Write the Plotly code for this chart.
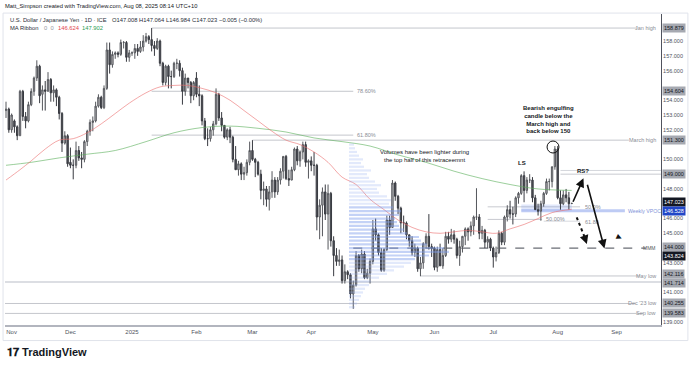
import plotly.graph_objects as go
import pandas as pd

# ---------------- data ----------------
dates = pd.bdate_range("2024-10-30", "2025-08-08") + pd.Timedelta(hours=12)

opens = [153.3, 153.4,
    152.0,152.6,152.2,151.6,154.6,152.9,152.6,153.7,154.6,155.5,156.3,154.4,154.7,154.6,155.4,154.5,154.7,154.2,153.1,151.1,151.6,
    149.8,149.6,149.6,150.6,150.1,150.0,151.2,151.9,152.5,152.6,153.6,154.2,153.5,154.8,157.4,156.4,157.1,157.2,157.1,157.9,157.9,156.9,
    157.2,157.2,157.5,157.3,157.6,158.0,158.3,158.1,157.7,157.5,158.0,156.5,155.2,156.3,155.6,155.6,156.5,156.5,156.0,154.6,155.5,155.2,154.3,
    155.5,154.4,154.3,152.6,151.4,151.4,152.0,152.4,154.4,152.8,152.3,151.5,152.0,151.5,150.0,149.3,149.7,149.0,149.1,149.8,
    150.6,150.0,149.8,149.0,147.9,148.0,147.3,147.8,148.6,147.8,148.6,149.2,150.2,148.7,148.6,149.3,150.7,149.9,150.5,151.0,149.8,
    149.9,149.6,149.6,146.1,146.9,147.8,146.3,147.7,144.5,143.5,143.1,143.2,141.8,142.4,142.2,140.9,141.5,143.5,142.6,143.6,142.0,142.3,
    143.1,145.3,144.9,143.7,142.5,143.9,145.9,145.4,148.4,147.5,146.7,145.7,145.7,144.9,144.5,143.7,144.0,142.6,143.0,144.3,144.8,144.1,
    144.0,142.7,143.9,142.8,143.5,144.8,144.6,144.9,144.6,143.5,144.1,144.8,145.3,145.1,145.5,146.1,146.1,145.0,145.2,144.4,144.6,
    144.0,143.4,143.7,145.0,144.4,146.1,146.6,146.3,146.3,147.4,147.7,148.9,147.9,148.6,148.6,147.4,146.6,146.5,147.0,147.7,148.5,148.5,149.5,
    150.7,147.4,147.0,147.6,147.4,147.008]
highs = [153.9, 153.5,
    153.1,152.7,152.3,154.7,154.7,153.2,153.9,154.8,155.6,156.7,156.4,155.0,155.3,155.9,155.5,155.0,154.8,154.3,153.2,151.9,151.7,
    150.8,150.0,151.2,150.9,150.5,151.3,152.0,152.7,152.9,153.9,154.4,154.3,155.0,157.9,157.9,157.3,157.3,157.3,158.1,158.0,158.0,157.4,
    157.3,157.8,157.8,158.0,158.4,158.55,158.4,158.88,158.0,158.2,158.1,156.6,156.4,156.4,156.0,156.6,156.8,156.7,156.2,155.8,155.5,155.3,155.3,
    155.9,155.0,154.4,152.8,152.1,152.2,152.6,154.8,154.5,153.2,152.3,152.1,152.2,151.6,150.9,149.9,149.8,149.5,150.0,151.2,
    151.3,150.1,149.9,149.3,148.5,148.2,148.2,149.2,148.8,148.8,149.4,150.2,150.3,149.3,149.5,150.8,150.9,150.6,151.2,151.2,150.0,
    150.2,150.5,149.7,147.3,148.1,148.3,148.3,147.8,144.8,144.0,143.9,143.5,142.9,142.5,142.3,141.8,143.8,143.6,143.9,143.8,142.6,143.3,
    145.9,146.0,145.0,144.0,144.0,146.2,146.2,148.6,148.5,147.6,146.8,146.2,145.8,144.9,144.8,144.3,144.1,143.4,144.4,145.0,146.3,144.3,
    144.1,144.1,144.3,144.0,145.1,145.1,145.3,145.2,144.7,144.5,144.8,145.4,145.4,145.8,146.2,148.05,146.3,145.5,145.3,144.8,144.7,
    144.1,144.1,145.2,145.1,146.2,146.9,147.2,146.8,147.5,147.8,149.0,149.19,148.8,149.0,148.8,147.6,147.0,147.2,147.8,148.7,148.7,149.5,150.9,
    150.9,147.9,147.9,148.0,147.8,147.064]
lows = [152.8, 151.8,
    151.8,151.8,151.3,151.6,152.6,152.1,152.5,153.6,154.3,155.3,153.8,153.3,153.3,154.6,153.9,153.9,153.6,152.7,150.5,151.0,149.5,
    149.4,148.65,149.4,149.9,149.4,149.8,150.9,151.6,151.9,152.5,153.5,153.4,153.4,154.7,155.8,156.2,156.8,156.9,157.0,157.5,156.6,156.6,
    157.0,156.8,157.0,157.2,157.3,157.9,157.8,157.3,157.0,157.4,156.3,155.0,155.0,154.8,154.8,155.5,156.1,155.6,153.7,154.3,154.8,153.8,154.0,
    154.2,153.6,152.3,151.3,150.9,151.2,151.6,152.3,152.6,151.9,151.4,151.3,151.1,149.8,149.3,148.9,148.6,148.6,148.9,149.6,
    149.9,148.8,148.9,147.3,146.9,146.8,146.54,147.4,147.4,147.6,148.3,148.7,148.6,148.2,148.6,149.2,149.6,149.5,150.0,149.5,148.7,
    149.2,148.9,145.2,144.6,144.8,145.9,143.9,144.1,142.1,142.8,142.8,141.6,141.6,141.9,140.6,139.89,141.4,142.4,142.3,141.9,141.9,141.6,
    142.9,144.5,143.5,142.4,142.4,143.8,144.9,145.4,147.2,146.3,145.0,145.1,144.6,144.1,143.5,143.4,142.4,142.1,142.6,144.0,143.9,143.4,
    142.5,142.4,142.8,142.6,143.4,144.3,144.4,144.3,143.3,142.8,143.7,144.2,144.5,144.8,144.9,145.9,144.6,144.6,144.0,144.0,143.8,
    142.68,143.1,143.6,144.2,144.2,145.8,146.0,145.6,146.1,147.0,147.6,147.1,147.7,148.4,147.1,146.6,146.2,145.85,146.8,147.6,147.9,148.1,149.3,
    147.3,146.6,146.9,147.1,146.6,146.984]
closes = [153.4, 152.0,
    153.0,152.2,151.6,154.6,152.9,152.6,153.7,154.6,155.5,156.3,154.3,154.7,154.6,155.4,154.5,154.7,154.2,153.1,151.1,151.6,149.7,
    149.6,149.6,150.6,150.1,150.0,151.2,151.9,152.5,152.6,153.6,154.2,153.5,154.8,157.4,156.4,157.1,157.2,157.1,157.9,157.9,156.9,157.2,
    157.2,157.5,157.3,157.6,158.0,158.3,158.1,157.7,157.5,158.0,156.5,155.2,156.3,155.6,155.6,156.5,156.5,156.0,154.6,155.5,155.2,154.3,155.2,
    154.4,154.3,152.6,151.4,151.4,152.0,152.4,154.4,152.8,152.3,151.5,152.0,151.5,150.0,149.3,149.7,149.0,149.1,149.8,150.6,
    150.0,149.8,149.0,147.9,148.0,147.3,147.8,148.6,147.8,148.6,149.2,150.2,148.7,148.6,149.3,150.7,149.9,150.5,151.0,149.8,149.9,
    149.6,149.6,146.1,146.9,147.8,146.3,147.7,144.5,143.5,143.1,143.2,141.8,142.4,142.2,140.9,141.5,143.5,142.6,143.6,142.0,142.3,143.1,
    145.3,144.9,143.7,142.5,143.9,145.9,145.4,148.4,147.5,146.7,145.7,145.7,144.9,144.5,143.7,144.0,142.6,143.0,144.3,144.8,144.1,144.0,
    142.7,143.9,142.8,143.5,144.8,144.6,144.9,144.6,143.5,144.1,144.8,145.3,145.1,145.5,146.1,146.1,145.0,145.2,144.4,144.6,144.0,
    143.4,143.7,145.0,144.4,146.1,146.6,146.3,146.3,147.4,147.7,148.9,147.9,148.6,148.6,147.4,146.6,146.5,147.0,147.7,148.5,148.5,149.5,150.7,
    147.4,147.0,147.6,147.4,147.0,147.023]

ma_fast_dates = ["2024-10-30","2024-11-06","2024-11-12","2024-11-19","2024-11-26","2024-12-03","2024-12-10","2024-12-17",
                 "2024-12-24","2024-12-31","2025-01-08","2025-01-15","2025-01-22","2025-01-29","2025-02-05","2025-02-12",
                 "2025-02-19","2025-02-26","2025-03-05","2025-03-12","2025-03-19","2025-03-26","2025-04-02","2025-04-09",
                 "2025-04-16","2025-04-23","2025-04-30","2025-05-07","2025-05-14","2025-05-21","2025-05-28","2025-06-04",
                 "2025-06-11","2025-06-18","2025-06-25","2025-07-02","2025-07-09","2025-07-16","2025-07-23","2025-07-30","2025-08-08"]
ma_fast = [148.6,149.3,149.9,150.7,151.3,151.4,151.8,152.4,153.1,153.8,154.5,154.9,155.0,155.0,154.8,154.5,
           154.0,153.3,152.6,151.9,151.3,151.0,150.5,149.8,148.8,148.3,147.3,146.6,145.9,145.4,145.1,145.0,
           145.1,145.2,145.1,145.0,145.3,145.6,146.0,146.4,146.624]

ma_slow_dates = ["2024-10-30","2024-11-12","2024-11-26","2024-12-10","2024-12-24","2025-01-08","2025-01-22","2025-02-05",
                 "2025-02-19","2025-03-05","2025-03-19","2025-04-02","2025-04-16","2025-04-30","2025-05-14","2025-05-28",
                 "2025-06-11","2025-06-25","2025-07-09","2025-07-23","2025-08-08"]
ma_slow = [149.6,149.8,150.1,150.35,150.6,151.2,151.8,152.15,152.25,152.1,151.85,151.45,151.2,150.9,150.3,149.8,
           149.2,148.7,148.3,148.0,147.902]

vp_prices = [140.0,140.25,140.5,140.75,141.0,141.25,141.5,141.75,142.0,142.25,142.5,142.75,143.0,143.25,143.5,143.75,
             144.0,144.25,144.5,144.75,145.0,145.25,145.5,145.75,146.0,146.25,146.5,146.75,147.0,147.25,147.5,147.75,
             148.0,148.25,148.5,148.75,149.0,149.25,149.5,149.75,150.0,150.25,150.5,150.75,151.0]
vp_volume = [6,8,10,12,14,16,20,22,30,38,45,55,62,66,80,100,95,78,72,70,58,55,50,48,46,50,52,44,40,42,38,30,
             28,32,26,20,18,22,15,12,14,10,8,6,5]

month_ticks = ["2024-11-01","2024-12-02","2025-01-01","2025-02-03","2025-03-03","2025-04-01","2025-05-01",
               "2025-06-02","2025-07-01","2025-08-01","2025-09-01"]
month_labels = ["Nov","Dec","2025","Feb","Mar","Apr","May","Jun","Jul","Aug","Sep"]
price_ticks = [139, 141, 143, 145, 146, 148, 150, 152, 153, 154, 156, 157, 158]

# ---------------- figure ----------------
FONT = "Liberation Sans"
fig = go.Figure()

vp_colors = ["rgba(125,155,235,0.45)" if 143.2 <= p <= 146.8 else "rgba(150,175,240,0.28)" for p in vp_prices]
fig.add_trace(go.Bar(x=vp_volume, y=vp_prices, orientation="h", xaxis="x2", yaxis="y",
                     width=0.15, marker=dict(color=vp_colors, line=dict(width=0)), hoverinfo="skip"))

fig.add_trace(go.Scatter(x=[d + " 12:00" for d in ma_slow_dates], y=ma_slow, mode="lines",
                         line=dict(color="rgba(90,175,90,0.6)", width=1, shape="spline"), hoverinfo="skip"))
fig.add_trace(go.Scatter(x=[d + " 12:00" for d in ma_fast_dates], y=ma_fast, mode="lines",
                         line=dict(color="rgba(235,110,110,0.6)", width=1, shape="spline"), hoverinfo="skip"))

fig.add_trace(go.Candlestick(x=dates, open=opens, high=highs, low=lows, close=closes,
                             increasing=dict(fillcolor="#c3c3c6", line=dict(color="#55575c", width=1)),
                             decreasing=dict(fillcolor="#55575d", line=dict(color="#383a40", width=1)),
                             whiskerwidth=0, hoverinfo="skip"))

shapes = []
def hline(x0, x1, y, color="#c4c6cc", width=1, dash="solid", xref="x"):
    shapes.append(dict(type="line", xref=xref, yref="y", x0=x0, x1=x1, y0=y, y1=y,
                       line=dict(color=color, width=width, dash=dash), layer="below"))

hline("2025-01-10 12:00", "2025-09-10 21:00", 158.879)
hline("2025-01-10 12:00", "2025-04-22 12:00", 154.604)
hline("2025-01-10 12:00", "2025-04-22 12:00", 151.64)
hline("2025-03-03 12:00", "2025-09-05 22:00", 151.3)
hline("2025-08-04 12:00", "2025-09-23 09:00", 149.25, color="#d5d7dc")
hline("2025-08-04 12:00", "2025-09-23 09:00", 149.0, color="#c8cad0")
hline("2025-06-27 12:00", "2025-08-13 12:00", 146.79, color="#c8cad0")
hline("2025-06-27 12:00", "2025-07-24 22:00", 145.94, color="#c8cad0")
hline("2025-07-25 12:00", "2025-08-13 12:00", 145.82, color="#d8dadf")
hline("2025-07-15 12:00", "2025-09-04 12:00", 146.528, color="rgba(110,140,230,0.45)", width=3)
hline("2025-04-22 12:00", "2025-09-15 23:00", 144.0, color="#6a6d75", width=1.3, dash="dash")
hline("2025-05-26 09:00", "2025-09-11 22:00", 142.116)
hline(0, 1, 141.714, color="#dcdee3", width=2, xref="paper")
hline(0, 0.961, 140.255, xref="paper")
hline(0, 0.973, 139.583, xref="paper")

shapes.append(dict(type="rect", xref="x", yref="y", x0="2025-07-15 12:00", x1="2025-08-08 14:00",
                   y0=146.55, y1=146.95, fillcolor="rgba(120,150,235,0.22)", line=dict(width=0), layer="below"))
shapes.append(dict(type="circle", xref="x", yref="y", x0="2025-07-28 17:00", x1="2025-08-01 23:00",
                   y0=150.43, y1=151.24, line=dict(color="#111", width=1)))
shapes.append(dict(type="line", xref="x", yref="y", x0="2025-08-12 07:00", y0=146.08,
                   x1="2025-08-15 18:00", y1=144.45, line=dict(color="#111", width=2, dash="dot")))
shapes.append(dict(type="rect", xref="paper", yref="paper", x0=-0.003, x1=1.041, y0=-0.05, y1=1.003,
                   line=dict(color="#e0e3eb", width=1), layer="below"))

ann = []
def txt(x, y, text, size=6, color="#131722", xanchor="center", yanchor="middle", xref="x", yref="y", **kw):
    ann.append(dict(x=x, y=y, text=text, xref=xref, yref=yref, showarrow=False, xanchor=xanchor,
                    yanchor=yanchor, font=dict(size=size, color=color, family=FONT), **kw))

def px(xp):
    return (xp - 5) / 656.0

# header & legend
txt(px(3), 1.0257, "Matt_Simpson created with TradingView.com, Aug 08, 2025 08:14 UTC+10", size=5.8,
    xref="paper", yref="paper", xanchor="left")
leg = "#2a2e39"
for xp, t in [(8, "U.S. Dollar / Japanese Yen · 1D · ICE"), (110, "O147.008"), (137, "H147.064"),
              (164, "L146.984"), (190, "C147.023"), (217, "−0.005 (−0.00%)")]:
    txt(px(xp), 0.9807, t, size=5.8, xref="paper", yref="paper", xanchor="left", color=leg)
txt(px(8), 0.955, "MA Ribbon", size=5.8, xref="paper", yref="paper", xanchor="left", color=leg)
txt(px(42), 0.955, "0  0", size=5.8, xref="paper", yref="paper", xanchor="left", color="#9598a1")
txt(px(56), 0.955, "146.624", size=5.8, xref="paper", yref="paper", xanchor="left", color="#e2474f")
txt(px(80), 0.955, "147.902", size=5.8, xref="paper", yref="paper", xanchor="left", color="#2e9e55")
txt(0.0, -0.088, "<b>𝟏𝟕 TradingView</b>", size=11, xref="paper", yref="paper", xanchor="left", color="#131722")

# line labels
lab = "#8a8d95"
txt(0.9954, 158.879, "Jan high", size=5.5, color=lab, xref="paper", xanchor="right")
txt(0.9954, 151.3, "March high", size=5.5, color=lab, xref="paper", xanchor="right")
txt(0.9954, 142.116, "May low", size=5.5, color=lab, xref="paper", xanchor="right")
txt(0.9954, 140.255, "Dec '23 low", size=5.5, color=lab, xref="paper", xanchor="right")
txt(0.9954, 139.583, "Sep low", size=5.5, color=lab, xref="paper", xanchor="right")
txt(0.9954, 144.0, "MMM", size=5, color="#55575c", xref="paper", xanchor="right")
txt(px(626), 146.528, "Weekly VPOC", size=5.2, color="#7f93d9", xref="paper", xanchor="left")
txt("2025-04-22 12:00", 154.604, "78.60%", size=5.5, color=lab, xanchor="left", xshift=2)
txt("2025-04-22 12:00", 151.64, "61.80%", size=5.5, color=lab, xanchor="left", xshift=2)
txt("2025-08-14 12:00", 146.79, "50.0%", size=5.5, color=lab, xanchor="left")
txt("2025-07-25 12:00", 145.94, "50.00%", size=5.5, color=lab, xanchor="left")
txt("2025-08-14 12:00", 145.82, "61.80", size=5.5, color=lab, xanchor="left", yshift=-1)

# commentary
txt("2025-07-29 02:00", 152.72, "<b>Bearish engulfing<br>candle below the<br>March high and<br>back below 150</b>", size=6)
txt("2025-05-28 02:00", 150.22, "Volumes have been lighter during<br>the top half of this retraceemnt", size=6)
txt("2025-07-15 19:00", 149.75, "<b>LS</b>", size=6)
txt("2025-08-14 12:00", 149.2, "<b>RS?</b>", size=6)
txt("2025-09-02 19:00", 144.75, "▶", size=7, color="#111", textangle=25)

# arrows
def arrow(x, y, ax, ay):
    ann.append(dict(x=x, y=y, ax=ax, ay=ay, xref="x", yref="y", axref="x", ayref="y", text="",
                    showarrow=True, arrowhead=2, arrowsize=1.1, arrowwidth=1.6, arrowcolor="#111"))
arrow("2025-08-14 17:00", 148.72, "2025-08-08 18:00", 147.03)
arrow("2025-08-26 05:00", 143.98, "2025-08-15 23:00", 148.38)
ann.append(dict(x="2025-08-15 22:00", y=144.27, ax=-2, ay=-6, xref="x", yref="y", text="", showarrow=True,
                arrowhead=2, arrowsize=1.1, arrowwidth=1.6, arrowcolor="#111"))

# right price boxes
def pbox(v, bg, fg, ys=0):
    ann.append(dict(x=1, y=v, xref="paper", yref="y", text=f"{v:.3f}", showarrow=False, xanchor="left",
                    yanchor="middle", xshift=1, yshift=ys, bgcolor=bg, borderpad=1,
                    font=dict(size=5.5, color=fg, family=FONT)))
gray = "#a6a9b1"
pbox(158.879, gray, "#131722")
pbox(154.604, gray, "#131722")
pbox(151.300, gray, "#131722")
pbox(149.000, gray, "#131722")
pbox(144.000, gray, "#131722", 1.5)
pbox(142.116, gray, "#131722", 1.5)
pbox(141.714, gray, "#131722", -1.5)
pbox(140.255, gray, "#131722")
pbox(139.583, gray, "#131722")
pbox(147.023, "#131722", "#ffffff", 1)
pbox(146.528, "#2146c7", "#ffffff", -0.5)
pbox(143.824, "#131722", "#ffffff", -5.5)

fig.update_layout(
    width=690, height=366, margin=dict(l=5, r=29, t=14, b=41, autoexpand=False),
    paper_bgcolor="white", plot_bgcolor="white", showlegend=False, hovermode=False,
    xaxis=dict(type="date", range=["2024-10-30 03:20", "2025-09-23 09:30"], automargin=False,
               rangebreaks=[dict(bounds=["sat", "mon"])], rangeslider=dict(visible=False),
               tickvals=[d + " 12:00" for d in month_ticks], ticktext=month_labels,
               tickfont=dict(size=6, color="#50535e", family=FONT), showgrid=False, zeroline=False,
               showline=True, linecolor="#b2b5be", linewidth=2, ticks=""),
    yaxis=dict(side="right", range=[138.80, 159.83], tickvals=price_ticks, tickformat=".3f", automargin=False,
               tickfont=dict(size=5.5, color="#50535e", family=FONT), showgrid=False, zeroline=False,
               showline=True, linecolor="#50535e", linewidth=1, ticks=""),
    xaxis2=dict(overlaying="x", anchor="y", range=[-344, 312], visible=False),
    shapes=shapes, annotations=ann,
)

fig.write_html("out.html", config={"displayModeBar": False},
               post_script="document.body.style.margin='0';document.body.style.overflow='hidden';")
